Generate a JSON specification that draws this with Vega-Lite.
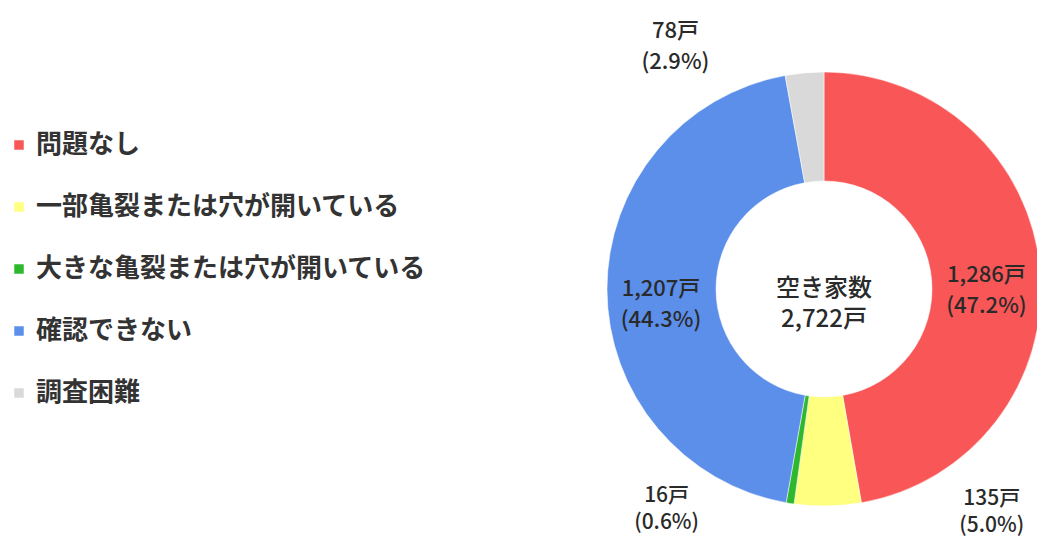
{
  "$schema": "https://vega.github.io/schema/vega-lite/v6.json",
  "width": 434,
  "height": 434,
  "autosize": {"type": "none"},
  "padding": {"left": 607, "top": 72, "right": 0, "bottom": 38},
  "background": "white",
  "config": {"view": {"stroke": null}, "font": "Noto Sans CJK JP"},
  "data": {
    "values": [
      {"category": "問題なし", "count": 1286, "order": 1},
      {"category": "一部亀裂または穴が開いている", "count": 135, "order": 2},
      {"category": "大きな亀裂または穴が開いている", "count": 16, "order": 3},
      {"category": "確認できない", "count": 1207, "order": 4},
      {"category": "調査困難", "count": 78, "order": 5}
    ]
  },
  "transform": [
    {"joinaggregate": [{"op": "sum", "field": "count", "as": "total"}]},
    {"calculate": "datum.count / datum.total", "as": "share"},
    {"calculate": "format(datum.count, ',') + '戸\\n(' + format(datum.share, '.1%') + ')'", "as": "label"},
    {"calculate": "datum.count > 500 ? datum.label : ''", "as": "bigLabel"},
    {"calculate": "datum.order == 5 ? datum.label : ''", "as": "grayLabel"},
    {"calculate": "datum.order == 3 ? datum.label : ''", "as": "greenLabel"},
    {"calculate": "datum.order == 2 ? datum.label : ''", "as": "yellowLabel"}
  ],
  "layer": [
    {
      "mark": {"type": "arc", "innerRadius": 108, "outerRadius": 217, "stroke": "#ffffff", "strokeWidth": 0.5},
      "encoding": {
        "theta": {"field": "count", "type": "quantitative", "stack": true},
        "order": {"field": "order", "type": "quantitative"},
        "color": {
          "field": "category",
          "type": "nominal",
          "sort": ["問題なし", "一部亀裂または穴が開いている", "大きな亀裂または穴が開いている", "確認できない", "調査困難"],
          "scale": {
            "domain": ["問題なし", "一部亀裂または穴が開いている", "大きな亀裂または穴が開いている", "確認できない", "調査困難"],
            "range": ["#f95757", "#ffff80", "#2db82d", "#5b8fea", "#d9d9d9"]
          },
          "legend": {
            "title": null,
            "orient": "none",
            "legendX": -601,
            "legendY": 60,
            "symbolType": "square",
            "symbolSize": 90,
            "symbolStrokeWidth": 0,
            "labelFontSize": 26,
            "labelFontWeight": "bold",
            "labelColor": "#333333",
            "labelOffset": 4,
            "labelLimit": 600,
            "rowPadding": 36
          }
        }
      }
    },
    {
      "mark": {"type": "text", "radius": 163, "fontSize": 22, "fontWeight": 500, "lineBreak": "\n", "lineHeight": 31, "color": "#2a2a2a", "baseline": "middle", "align": "center"},
      "encoding": {
        "theta": {"field": "count", "type": "quantitative", "stack": true},
        "order": {"field": "order", "type": "quantitative"},
        "text": {"field": "bigLabel"}
      }
    },
    {
      "mark": {"type": "text", "radius": 240, "dx": -127, "dy": -19, "fontSize": 22, "fontWeight": 500, "lineBreak": "\n", "lineHeight": 31, "color": "#2a2a2a", "baseline": "middle", "align": "center"},
      "encoding": {
        "theta": {"field": "count", "type": "quantitative", "stack": true},
        "order": {"field": "order", "type": "quantitative"},
        "text": {"field": "grayLabel"}
      }
    },
    {
      "mark": {"type": "text", "radius": 220, "dx": -123, "dy": -10, "fontSize": 21, "fontWeight": 500, "lineBreak": "\n", "lineHeight": 27, "color": "#2a2a2a", "baseline": "middle", "align": "center"},
      "encoding": {
        "theta": {"field": "count", "type": "quantitative", "stack": true},
        "order": {"field": "order", "type": "quantitative"},
        "text": {"field": "greenLabel"}
      }
    },
    {
      "mark": {"type": "text", "radius": 220, "dx": 164, "dy": -10, "fontSize": 21, "fontWeight": 500, "lineBreak": "\n", "lineHeight": 27, "color": "#2a2a2a", "baseline": "middle", "align": "center"},
      "encoding": {
        "theta": {"field": "count", "type": "quantitative", "stack": true},
        "order": {"field": "order", "type": "quantitative"},
        "text": {"field": "yellowLabel"}
      }
    },
    {
      "transform": [
        {"aggregate": [{"op": "sum", "field": "count", "as": "sumCount"}]},
        {"calculate": "'空き家数\\n' + format(datum.sumCount, ',') + '戸'", "as": "centerLabel"}
      ],
      "mark": {"type": "text", "fontSize": 24, "fontWeight": 500, "lineBreak": "\n", "lineHeight": 31, "color": "#2a2a2a", "baseline": "middle", "align": "center"},
      "encoding": {
        "text": {"field": "centerLabel"}
      }
    }
  ]
}
